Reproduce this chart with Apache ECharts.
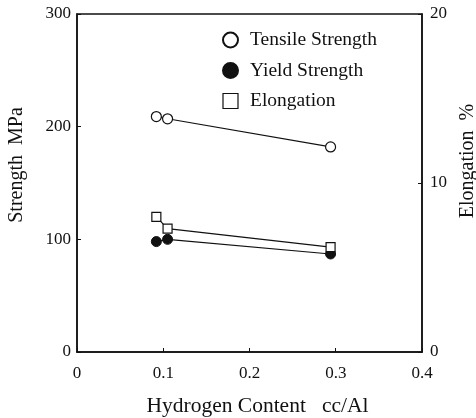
<!DOCTYPE html>
<html>
<head>
<meta charset="utf-8">
<script src="https://cdn.jsdelivr.net/npm/echarts@6/dist/echarts.min.js"></script>
<style>html,body{margin:0;padding:0;background:#fff;}#chart{width:476px;height:418px;}</style>
</head>
<body>
<div id="chart"></div>
<script>
// Data
const hydrogen = [0.092, 0.105, 0.294];          // cc/Al
const tensileStrength = [209, 207, 182];         // MPa
const yieldStrength = [98, 100, 87];             // MPa
const elongation = [8.0, 7.3, 6.2];              // %
const seriesNames = ['Tensile Strength', 'Yield Strength', 'Elongation'];
const xTicks = [0, 0.1, 0.2, 0.3, 0.4];
const strengthTicks = [0, 100, 200, 300];
const elongationTicks = [0, 10, 20];

const FONT = '"Liberation Serif", "DejaVu Serif", serif';
const pair = (xs, ys) => xs.map((x, i) => [x, ys[i]]);

const chart = echarts.init(document.getElementById('chart'));
const axisLine = { show: true, lineStyle: { color: '#111', width: 1.5 } };
const axisTick = { show: true, inside: true, length: 4, lineStyle: { color: '#111', width: 1 } };
const tickLabel = { color: '#111', fontFamily: FONT, fontSize: 17 };
const nameStyle = { color: '#111', fontFamily: FONT, fontSize: 20 };

chart.setOption({
  animation: false,
  backgroundColor: '#fff',
  grid: { left: 77, right: 54, top: 14, bottom: 66, show: true, borderColor: '#111', borderWidth: 1.5,
          containLabel: false, outerBoundsMode: 'none' },
  legend: {
    orient: 'vertical', left: 217, top: 25,
    itemWidth: 15, itemHeight: 15, itemGap: 10.5,
    textStyle: { color: '#111', fontFamily: FONT, fontSize: 19.5, padding: [0, 0, 0, 7] },
    data: [
      { name: seriesNames[0], icon: 'circle' },
      { name: seriesNames[1], icon: 'circle' },
      { name: seriesNames[2], icon: 'rect', itemStyle: { borderWidth: 1.2 } }
    ]
  },
  xAxis: {
    type: 'value', min: xTicks[0], max: xTicks[xTicks.length - 1], interval: 0.1,
    name: 'Hydrogen Content   cc/Al', nameLocation: 'middle', nameGap: 43,
    nameTextStyle: Object.assign({}, nameStyle, { fontSize: 21.5, padding: [0, 0, 0, 16] }),
    axisLine, axisTick, splitLine: { show: false },
    axisLabel: Object.assign({ margin: 13, formatter: v => v === 0 ? '0' : v.toFixed(1) }, tickLabel)
  },
  yAxis: [
    {
      type: 'value', min: strengthTicks[0], max: strengthTicks[strengthTicks.length - 1], interval: 100,
      name: 'Strength  MPa', nameLocation: 'middle', nameGap: 50,
      nameTextStyle: Object.assign({}, nameStyle, { padding: [0, 0, 0, 36] }),
      axisLine, axisTick, splitLine: { show: false },
      axisLabel: Object.assign({ margin: 6 }, tickLabel)
    },
    {
      type: 'value', min: elongationTicks[0], max: elongationTicks[elongationTicks.length - 1], interval: 10,
      position: 'right',
      name: 'Elongation  %', nameLocation: 'middle', nameGap: 36,
      nameTextStyle: Object.assign({}, nameStyle, { padding: [0, 0, 0, 44] }),
      axisLine, axisTick, splitLine: { show: false },
      axisLabel: Object.assign({ margin: 8 }, tickLabel)
    }
  ],
  series: [
    {
      name: seriesNames[0], type: 'line', yAxisIndex: 0, data: pair(hydrogen, tensileStrength),
      symbol: 'circle', symbolSize: 10,
      lineStyle: { color: '#111', width: 1.2 },
      itemStyle: { color: '#fff', borderColor: '#111', borderWidth: 1.2 }
    },
    {
      name: seriesNames[1], type: 'line', yAxisIndex: 0, data: pair(hydrogen, yieldStrength),
      symbol: 'circle', symbolSize: 10,
      lineStyle: { color: '#111', width: 1.2 },
      itemStyle: { color: '#111', borderColor: '#111', borderWidth: 1 }
    },
    {
      name: seriesNames[2], type: 'line', yAxisIndex: 1, data: pair(hydrogen, elongation),
      symbol: 'rect', symbolSize: 9,
      lineStyle: { color: '#111', width: 1.2 },
      itemStyle: { color: '#fff', borderColor: '#111', borderWidth: 1.2 }
    }
  ]
});
</script>
</body>
</html>
